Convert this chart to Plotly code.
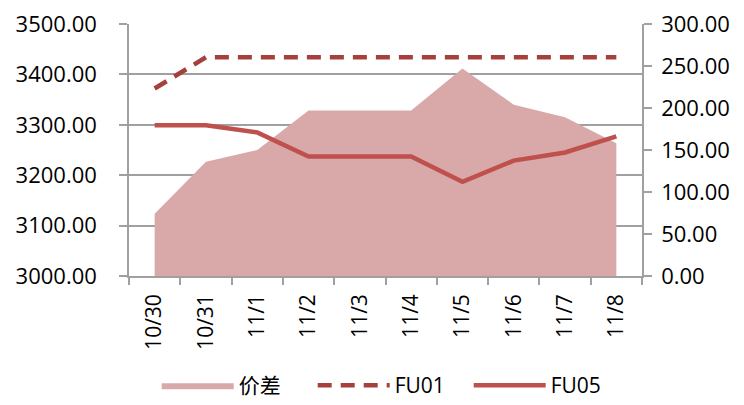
import plotly.graph_objects as go

categories = ["10/30", "10/31", "11/1", "11/2", "11/3", "11/4", "11/5", "11/6", "11/7", "11/8"]
spread = [74, 136, 150, 197, 197, 197, 247, 204, 189, 158]
fu01 = [3372, 3434, 3434, 3434, 3434, 3434, 3434, 3434, 3434, 3434]
fu05 = [3299, 3299, 3285, 3237, 3237, 3237, 3187, 3229, 3245, 3277]

font_family = "'Open Sans', 'Noto Sans', sans-serif"
axis_col = "#A0A0A0"

fig = go.Figure()
fig.add_trace(go.Scatter(
    x=categories, y=spread, name="价差", yaxis="y",
    mode="lines", fill="tozeroy", line=dict(width=0, color="#D9A9A9"),
    fillcolor="#D9A9A9",
))
fig.add_trace(go.Scatter(
    x=categories, y=fu01, name="FU01", mode="lines", yaxis="y2",
    line=dict(color="#A5403D", width=4.5, dash="14px,9px"),
))
fig.add_trace(go.Scatter(
    x=categories, y=fu05, name="FU05", mode="lines", yaxis="y2",
    line=dict(color="#C0504D", width=4.5),
))

fig.update_layout(
    width=744, height=405,
    margin=dict(l=129, r=102, t=24, b=129, autoexpand=False),
    paper_bgcolor="white", plot_bgcolor="white",
    font=dict(family=font_family, size=22, color="black"),
    showlegend=True,
    legend=dict(orientation="h", x=0.054, xanchor="left", y=-0.435, yanchor="middle",
                font=dict(size=21, family="'Open Sans', 'Noto Sans CJK SC', sans-serif"),
                itemwidth=72, entrywidth=69, entrywidthmode="pixels",
                traceorder="normal"),
    xaxis=dict(
        type="category", tickangle=-90, tickson="boundaries",
        ticks="outside", ticklen=7, tickcolor=axis_col, tickwidth=1.5,
        showline=True, linecolor=axis_col, linewidth=1.5,
        showgrid=False, range=[-0.5, 9.5], ticklabelstandoff=8,
        tickfont=dict(size=21), automargin=False,
    ),
    yaxis=dict(
        range=[0, 300], dtick=50, tickformat=".2f", side="right",
        showgrid=False, showline=True, linecolor=axis_col, linewidth=1.5,
        ticks="outside", ticklen=8, tickcolor=axis_col, tickwidth=1.5,
        zeroline=False, ticklabelstandoff=5, automargin=False,
    ),
    yaxis2=dict(
        range=[3000, 3500], dtick=100, tickformat=".2f", overlaying="y", side="left",
        showgrid=True, gridcolor=axis_col, gridwidth=1.5,
        showline=True, linecolor=axis_col, linewidth=1.5,
        ticks="outside", ticklen=8, tickcolor=axis_col, tickwidth=1.5,
        zeroline=False, ticklabelstandoff=18, automargin=False,
    ),
)

fig.write_html("out.html", post_script="document.body.style.margin='0';",
               config={"displayModeBar": False})
